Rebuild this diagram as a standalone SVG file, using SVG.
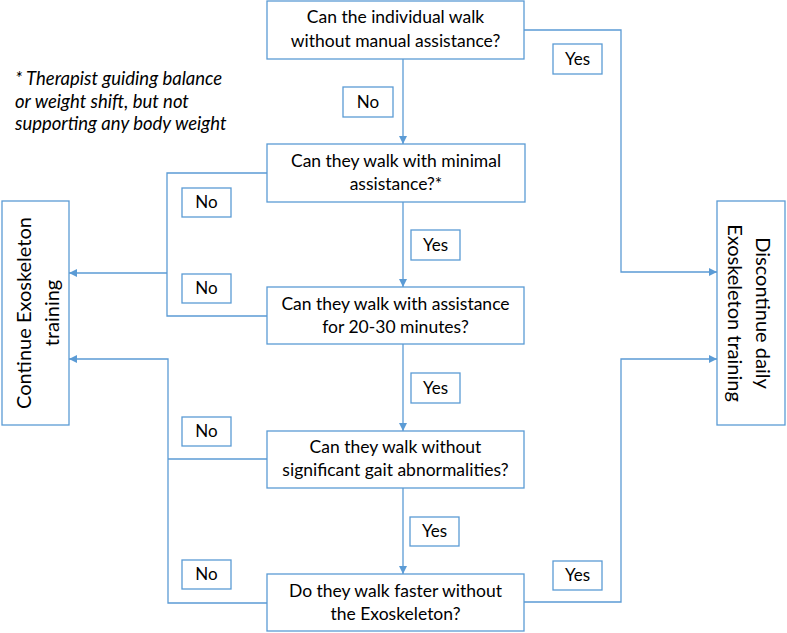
<svg xmlns="http://www.w3.org/2000/svg" width="787" height="633" viewBox="0 0 787 633">
<style>
  .box { fill: #ffffff; stroke: #5b9bd5; stroke-width: 1.3; }
  .lbl { fill: #ffffff; stroke: #5b9bd5; stroke-width: 1.3; }
  .line { fill: none; stroke: #5b9bd5; stroke-width: 1.3; }
  .t { font-family: Lato, "Open Sans", "Liberation Sans", sans-serif; font-size: 17.5px; fill: #000000; text-anchor: middle; }
  .s { font-family: Lato, "Open Sans", "Liberation Sans", sans-serif; font-size: 17px; fill: #000000; text-anchor: middle; }
  .big { font-family: Lato, "Open Sans", "Liberation Sans", sans-serif; font-size: 20px; fill: #000000; text-anchor: middle; }
  .note { font-family: Lato, "Open Sans", "Liberation Sans", sans-serif; font-size: 18.5px; font-style: italic; fill: #000000; }
</style>
<defs>
  <marker id="arr" viewBox="0 0 10 10" refX="10" refY="5" markerWidth="8" markerHeight="8" markerUnits="userSpaceOnUse" orient="auto">
    <path d="M0,0 L10,5 L0,10 z" fill="#5b9bd5"/>
  </marker>
</defs>
<rect width="787" height="633" fill="#ffffff"/>

<g id="connectors">
  <line class="line" x1="403" y1="59" x2="403" y2="144" marker-end="url(#arr)"/>
  <line class="line" x1="403" y1="202" x2="403" y2="287" marker-end="url(#arr)"/>
  <line class="line" x1="403" y1="344" x2="403" y2="431" marker-end="url(#arr)"/>
  <line class="line" x1="403" y1="488" x2="403" y2="574" marker-end="url(#arr)"/>
  <polyline class="line" points="524,30 621,30 621,272 717,272" marker-end="url(#arr)"/>
  <polyline class="line" points="524,602 621,602 621,359 717,359" marker-end="url(#arr)"/>
  <polyline class="line" points="267,173 167,173 167,316 267,316"/>
  <line class="line" x1="167" y1="273" x2="69" y2="273" marker-end="url(#arr)"/>
  <polyline class="line" points="267,459 168,459"/>
  <polyline class="line" points="267,603 168,603 168,359 69,359" marker-end="url(#arr)"/>
</g>

<g id="note">
  <text class="note" x="15" y="85">* Therapist guiding balance</text>
  <text class="note" x="15" y="108">or weight shift, but not</text>
  <text class="note" x="15" y="130">supporting any body weight</text>
</g>

<g id="q1">
  <rect class="box" x="267" y="1" width="257" height="58"/>
  <text class="t" x="395.5" y="23">Can the individual walk</text>
  <text class="t" x="395.5" y="47">without manual assistance?</text>
</g>
<g id="q2">
  <rect class="box" x="267" y="144" width="258" height="58"/>
  <text class="t" x="396" y="167">Can they walk with minimal</text>
  <text class="t" x="396" y="190">assistance?*</text>
</g>
<g id="q3">
  <rect class="box" x="267" y="287" width="257" height="57"/>
  <text class="t" x="395.5" y="310">Can they walk with assistance</text>
  <text class="t" x="395.5" y="333">for 20-30 minutes?</text>
</g>
<g id="q4">
  <rect class="box" x="267" y="431" width="257" height="57"/>
  <text class="t" x="395.5" y="453">Can they walk without</text>
  <text class="t" x="395.5" y="476">significant gait abnormalities?</text>
</g>
<g id="q5">
  <rect class="box" x="267" y="574" width="257" height="57"/>
  <text class="t" x="395.5" y="597">Do they walk faster without</text>
  <text class="t" x="395.5" y="620">the Exoskeleton?</text>
</g>

<g id="continue">
  <rect class="box" x="2" y="201" width="67" height="224"/>
  <text class="big" transform="translate(31,313) rotate(-90)">Continue Exoskeleton</text>
  <text class="big" transform="translate(59,313) rotate(-90)">training</text>
</g>
<g id="discontinue">
  <rect class="box" x="717" y="201" width="68" height="224"/>
  <text class="big" transform="translate(756,313) rotate(90)">Discontinue daily</text>
  <text class="big" transform="translate(728,313) rotate(90)">Exoskeleton training</text>
</g>

<g id="label-no1"><rect class="lbl" x="343" y="87" width="50" height="30"/><text class="s" x="368" y="108">No</text></g>
<g id="label-yes1"><rect class="lbl" x="553" y="44" width="49" height="30"/><text class="s" x="577.5" y="65">Yes</text></g>
<g id="label-no2"><rect class="lbl" x="182" y="188" width="49" height="29"/><text class="s" x="206.5" y="208">No</text></g>
<g id="label-yes2"><rect class="lbl" x="411" y="230" width="49" height="30"/><text class="s" x="435.5" y="251">Yes</text></g>
<g id="label-no3"><rect class="lbl" x="182" y="274" width="49" height="29"/><text class="s" x="206.5" y="294">No</text></g>
<g id="label-yes3"><rect class="lbl" x="411" y="373" width="49" height="30"/><text class="s" x="435.5" y="394">Yes</text></g>
<g id="label-no4"><rect class="lbl" x="182" y="417" width="49" height="29"/><text class="s" x="206.5" y="437">No</text></g>
<g id="label-yes4"><rect class="lbl" x="410" y="517" width="49" height="29"/><text class="s" x="434.5" y="537">Yes</text></g>
<g id="label-no5"><rect class="lbl" x="182" y="560" width="49" height="29"/><text class="s" x="206.5" y="580">No</text></g>
<g id="label-yes5"><rect class="lbl" x="553" y="561" width="49" height="29"/><text class="s" x="577.5" y="581">Yes</text></g>
</svg>
